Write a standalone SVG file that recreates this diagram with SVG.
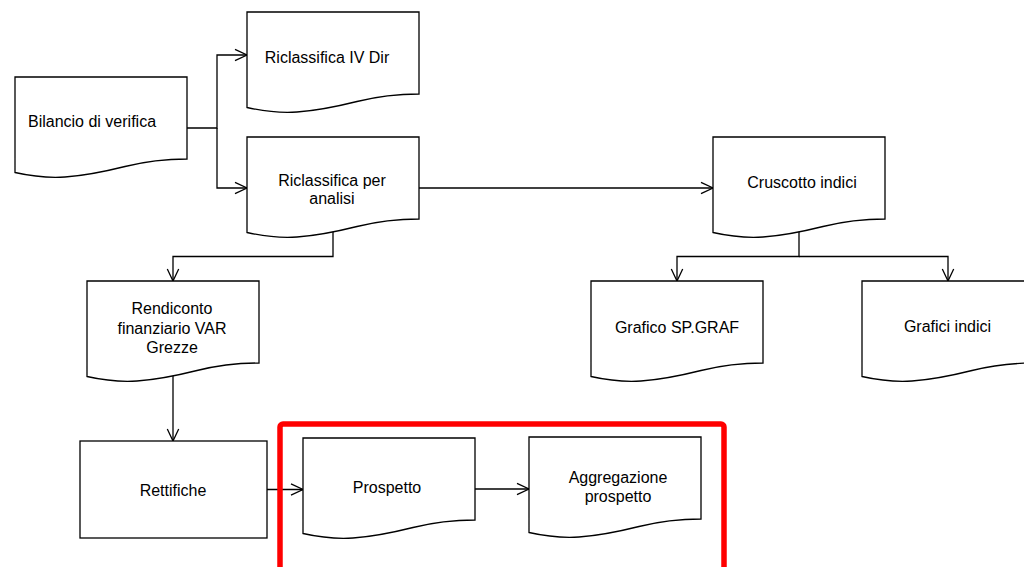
<svg xmlns="http://www.w3.org/2000/svg" xmlns:xlink="http://www.w3.org/1999/xlink" width="1024" height="567" viewBox="0 0 1024 567">
<style>
.shape{fill:#fff;stroke:#000;stroke-width:1.3}
.conn{fill:none;stroke:#000;stroke-width:1.3}
text{font-family:"Liberation Sans","Noto Sans",sans-serif;font-size:16px;fill:#000;text-anchor:middle}
.hl{fill:none;stroke:#ff0000;stroke-width:5.5}
</style>
<defs>
<marker id="arr" markerUnits="userSpaceOnUse" markerWidth="14" markerHeight="14" refX="12" refY="6" orient="auto" overflow="visible">
<path d="M0,0.3 L12,6 L0,11.7" fill="none" stroke="#000" stroke-width="1.3"/>
</marker>
<path id="doc" d="M0,0 H172 V82 C155,82 130,84.5 110,89.5 C90,94.5 65,99 50,100 C35,101 20,100 0,95.5 Z"/>
</defs>
<rect width="1024" height="567" fill="#fff"/>
<g id="connectors">
<path class="conn" d="M187,128 H217 V55 H247" marker-end="url(#arr)"/>
<path class="conn" d="M217,128 V188 H247" marker-end="url(#arr)"/>
<path class="conn" d="M419,188 H713" marker-end="url(#arr)"/>
<path class="conn" d="M333,228 V256.5 H173 V281" marker-end="url(#arr)"/>
<path class="conn" d="M799,228 V256.5 H677 V281" marker-end="url(#arr)"/>
<path class="conn" d="M799,256.5 H948 V281" marker-end="url(#arr)"/>
<path class="conn" d="M173,374 V441" marker-end="url(#arr)"/>
<path class="conn" d="M267,489.5 H303" marker-end="url(#arr)"/>
<path class="conn" d="M475,489 H529" marker-end="url(#arr)"/>
</g>
<g id="bilancio"><use xlink:href="#doc" class="shape" x="15" y="77"/><text x="92" y="126.5">Bilancio di verifica</text></g>
<g id="riclassifica-iv"><use xlink:href="#doc" class="shape" x="247" y="12"/><text x="327" y="62.5">Riclassifica IV Dir</text></g>
<g id="riclassifica-analisi"><use xlink:href="#doc" class="shape" x="247" y="137"/><text x="332" y="185.5">Riclassifica per</text><text x="332" y="204">analisi</text></g>
<g id="cruscotto"><use xlink:href="#doc" class="shape" x="713" y="137"/><text x="802" y="188">Cruscotto indici</text></g>
<g id="grafico-sp"><use xlink:href="#doc" class="shape" x="591" y="281"/><text x="677" y="332.5">Grafico SP.GRAF</text></g>
<g id="grafici-indici"><use xlink:href="#doc" class="shape" x="862" y="281"/><text x="947.5" y="331.5">Grafici indici</text></g>
<g id="rendiconto"><use xlink:href="#doc" class="shape" x="87" y="281"/><text x="172" y="314">Rendiconto</text><text x="172" y="333.5">finanziario VAR</text><text x="172" y="353">Grezze</text></g>
<g id="rettifiche"><rect class="shape" x="80" y="441" width="187" height="97"/><text x="173" y="496">Rettifiche</text></g>
<g id="prospetto"><use xlink:href="#doc" class="shape" x="303" y="438"/><text x="387" y="493">Prospetto</text></g>
<g id="aggregazione"><use xlink:href="#doc" class="shape" x="529" y="437"/><text x="618" y="483">Aggregazione</text><text x="618" y="502">prospetto</text></g>
<g id="highlight"><rect class="hl" x="280" y="424" width="444" height="170" rx="3"/></g>
</svg>
